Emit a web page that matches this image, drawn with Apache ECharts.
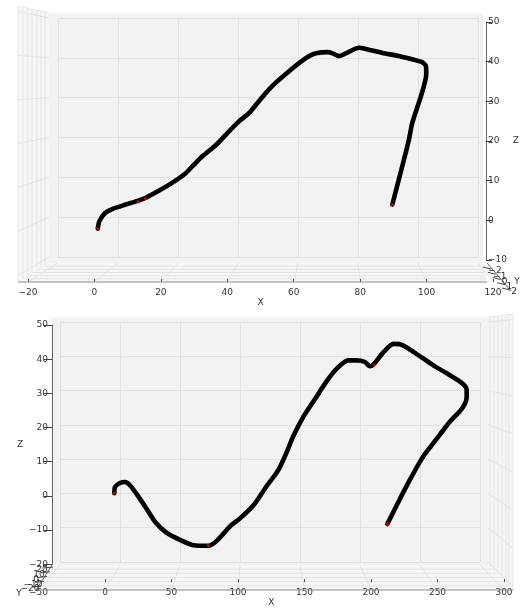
<!DOCTYPE html>
<html><head><meta charset="utf-8">
<script src="https://cdn.jsdelivr.net/npm/echarts@6/dist/echarts.min.js"></script>
<style>html,body{margin:0;padding:0;background:#fff}#c{width:522px;height:608px}</style>
</head><body><div id="c"></div>
<script>
// ---------- data ----------
const topX = [1.0, 1.5, 3.3, 5.5, 9.5, 13.0, 15.5, 19.5, 23.5, 27.1, 29.6, 32.6, 36.6, 40.6, 43.6, 46.6, 49.1, 51.7, 54.6, 58.6, 61.7, 64.7, 66.7, 70.2, 71.7, 73.7, 75.7, 79.7, 81.7, 86.7, 91.7, 98.3, 99.8, 99.9, 98.3, 95.7, 94.7, 92.7, 89.7];
const topZ = [-2.1, -0.2, 1.9, 2.9, 4.0, 4.9, 5.7, 7.5, 9.5, 11.6, 13.7, 16.2, 19.0, 22.5, 25.0, 27.1, 29.6, 32.2, 34.7, 37.6, 39.7, 41.4, 42.1, 42.4, 42.1, 41.4, 42.1, 43.5, 43.2, 42.2, 41.4, 40.0, 38.9, 36.8, 31.3, 24.6, 20.4, 13.7, 4.0];
const topRedX = [1.0, 13.2, 15.3, 89.7];
const topRedZ = [-2.1, 4.7, 5.5, 4.0];

const botX = [7.0, 7.5, 11.3, 15.0, 18.8, 26.3, 31.3, 37.6, 46.4, 56.4, 66.4, 77.7, 84.0, 94.0, 101.5, 111.5, 121.6, 130.3, 136.6, 141.6, 149.1, 157.9, 166.7, 174.2, 182.9, 189.2, 195.5, 199.2, 201.7, 209.3, 216.8, 221.8, 234.4, 246.9, 256.9, 268.2, 271.9, 271.9, 268.2, 259.4, 251.9, 244.4, 238.1, 229.3, 220.5, 212.3];
const botZ = [-0.9, 1.0, 2.2, 2.5, 1.5, -2.6, -5.6, -9.5, -12.9, -15.0, -16.6, -16.8, -15.3, -10.9, -8.5, -4.6, 1.3, 6.1, 11.5, 16.4, 22.2, 27.6, 33.0, 36.8, 39.3, 39.3, 38.8, 37.5, 38.0, 41.7, 44.3, 44.2, 41.2, 37.8, 35.4, 32.5, 30.5, 28.1, 24.6, 20.8, 16.9, 13.0, 9.5, 3.2, -3.6, -10.2];
const botRedX = [7.0, 77.7, 202.3, 212.3];
const botRedZ = [-0.9, -16.8, 38.0, -10.2];

const topXTicks = [-20, 0, 20, 40, 60, 80, 100, 120];
const topZTicks = [-10, 0, 10, 20, 30, 40, 50];
const botXTicks = [-50, 0, 50, 100, 150, 200, 250, 300];
const botZTicks = [-20, -10, 0, 10, 20, 30, 40, 50];
const topYTicks = ['−2', '−1', '0', '1', '2'];
const botYTicks = ['−20', '−10', '0', '10', '20'];

// ---------- helpers ----------
const FONT = 'DejaVu Sans';
const LBL = '#333';
const FS = 9;
function pts(xs, zs) { return xs.map((x, i) => [x, zs[i]]); }
function rng(t) { return { min: t[0], max: t[t.length - 1], interval: t[1] - t[0] }; }
function hiddenAxis(grid, t, split) {
  return Object.assign({ gridIndex: grid, type: 'value', axisLine: { show: false, onZero: false }, axisTick: { show: false },
    axisLabel: { show: false }, splitLine: { show: !!split, lineStyle: { color: '#e2e2e2', width: 1 } } }, rng(t));
}
const fmt = v => String(v).replace('-', '−');

const chart = echarts.init(document.getElementById('c'), null, { renderer: 'canvas' });

const grids = [
  { left: 58, top: 18, width: 420, height: 239 },      // 0 top back pane gridlines
  { left: 28, top: 22, width: 465, height: 238 },      // 1 top data (front scale)
  { left: 28, top: 22, width: 459, height: 238 },      // 2 top z axis
  { left: 60, top: 322, width: 420, height: 240 },     // 3 bottom back pane gridlines
  { left: 38.5, top: 325, width: 465.5, height: 239.3 }, // 4 bottom data
  { left: 52, top: 325, width: 452, height: 239.3 }    // 5 bottom z axis
];

function frontX(grid, ticks, off) {
  return Object.assign({ gridIndex: grid, type: 'value', position: 'bottom', offset: off,
    axisLine: { show: false, onZero: false },
    axisTick: { show: true, inside: true, length: 3, lineStyle: { color: '#555' } },
    axisLabel: { show: true, fontSize: FS, fontFamily: FONT, color: LBL, margin: 6, formatter: fmt },
    splitLine: { show: false },
    name: 'X', nameLocation: 'middle', nameGap: 10,
    nameTextStyle: { fontSize: FS, fontFamily: FONT, color: LBL } }, rng(ticks));
}
function zAxis(grid, ticks, pos, tickLen, margin, gap) {
  return Object.assign({ gridIndex: grid, type: 'value', position: pos,
    axisLine: { show: true, onZero: false, lineStyle: { color: '#666', width: 1 } },
    axisTick: { show: true, length: tickLen, lineStyle: { color: '#444' } },
    axisLabel: { show: true, fontSize: FS, fontFamily: FONT, color: LBL, margin, formatter: fmt },
    splitLine: { show: false },
    name: 'Z', nameLocation: 'middle', nameGap: gap, nameRotate: 0,
    nameTextStyle: { fontSize: FS, fontFamily: FONT, color: LBL } }, rng(ticks));
}

const xAxes = [
  hiddenAxis(0, topXTicks, true),
  frontX(1, topXTicks, 22),
  hiddenAxis(2, topXTicks, false),
  hiddenAxis(3, botXTicks, true),
  frontX(4, botXTicks, 25.7),
  hiddenAxis(5, botXTicks, false)
];

const yAxes = [
  hiddenAxis(0, topZTicks, true),
  hiddenAxis(1, topZTicks, false),
  zAxis(2, topZTicks, 'right', 6, 2, 17),
  hiddenAxis(3, botZTicks, true),
  hiddenAxis(4, botZTicks, false),
  zAxis(5, botZTicks, 'left', 8, 4, 18)
];

const lineStyle = { color: '#000', width: 4.6, cap: 'round', join: 'round' };
const series = [
  { type: 'line', xAxisIndex: 1, yAxisIndex: 1, data: pts(topX, topZ), symbol: 'none', smooth: 0.25,
    lineStyle, z: 3, silent: true, animation: false },
  { type: 'scatter', xAxisIndex: 1, yAxisIndex: 1, data: pts(topRedX, topRedZ), symbolSize: 3.5,
    itemStyle: { color: '#e00000' }, z: 4, silent: true, animation: false },
  { type: 'line', xAxisIndex: 4, yAxisIndex: 4, data: pts(botX, botZ), symbol: 'none', smooth: 0.25,
    lineStyle, z: 3, silent: true, animation: false },
  { type: 'scatter', xAxisIndex: 4, yAxisIndex: 4, data: pts(botRedX, botRedZ), symbolSize: 3.5,
    itemStyle: { color: '#e00000' }, z: 4, silent: true, animation: false }
];

chart.setOption({ animation: false, grid: grids, xAxis: xAxes, yAxis: yAxes, series });

// ---------- 3D box decorations (panes, floor, side walls) ----------
const G = [];
const PANE = '#f2f2f2', SIDE = '#f6f6f6', GL = '#e4e4e4', EDGE = '#8a8a8a';
function L(x1, y1, x2, y2, c, w, z) { G.push({ type: 'line', silent: true, z: z == null ? -2 : z,
  shape: { x1, y1, x2, y2 }, style: { stroke: c, lineWidth: w || 1 } }); }
function P(points, fill, z) { G.push({ type: 'polygon', silent: true, z: z == null ? -5 : z,
  shape: { points }, style: { fill, stroke: null } }); }
function T(str, x, y, align, vAlign) { G.push({ type: 'text', silent: true, z: 5,
  style: { text: str, x, y, fill: LBL, font: FS + 'px "' + FONT + '"', textAlign: align || 'center', textVerticalAlign: vAlign || 'middle' } }); }
const lerp = (a, b, t) => a + (b - a) * t;
const px = (ax, v) => chart.convertToPixel({ xAxisIndex: ax }, v);
const py = (ax, v) => chart.convertToPixel({ yAxisIndex: ax }, v);

// ---- top box ----
(function () {
  const bl = 49, br = 483, bt = 13, bb = 263;   // back pane
  const fl = 18, fr = 487, ft = 6, fb = 282;    // front edges
  P([[bl, bt], [br, bt], [br, bb], [bl, bb]], PANE, -6);
  P([[fl, ft], [bl, bt], [bl, bb], [fl, fb]], SIDE, -6);
  P([[bl, bb], [br, bb], [fr, fb], [fl, fb]], SIDE, -6);
  [23, 28, 32, 37, 41, 45].forEach(x => {
    const t = (bl - x) / (bl - fl);
    L(x, lerp(bt, ft, t), x, lerp(bb, fb, t), GL, 1);
  });
  L(fl, ft, fl, fb, '#e8e8e8', 1);
  L(fl, ft, bl, bt, '#e8e8e8', 1);
  topZTicks.forEach(z => {
    const yb = py(0, z);
    const yf = ft + (yb - bt) * (fb - ft) / (bb - bt);
    L(bl, yb, fl, yf, GL, 1);
  });
  for (let k = 1; k < 6; k++) {
    const t = k / 6, y = lerp(bb, fb, t);
    L(lerp(bl, fl, t), y, lerp(br, fr, t), y, GL, 1);
  }
  topXTicks.forEach(x => L(px(0, x), bb, px(1, x), fb, GL, 1));
  L(fl, fb, fr, fb, EDGE, 1, 2);
  // squashed Y axis
  L(487, 263, 511, 291, '#666', 1, 2);
  topYTicks.forEach((s, i) => {
    const t = i / (topYTicks.length - 1);
    const x = lerp(490, 509, t), y = lerp(268, 289, t);
    L(x - 7, y - 1, x + 1, y + 1, '#444', 1, 2);
    T(s, x + 5, y + 3, 'center');
  });
  T('Y', 517, 282, 'center');
})();

// ---- bottom box ----
(function () {
  const bl = 52, br = 488, bt = 317, bb = 565;
  const fl = 37, fr = 513, ft = 314, fb = 590;
  P([[bl, bt], [br, bt], [br, bb], [bl, bb]], PANE, -6);
  P([[br, bt], [fr, ft], [fr, fb], [br, bb]], SIDE, -6);
  P([[bl, bb], [br, bb], [fr, fb], [fl, fb]], SIDE, -6);
  [490, 494, 498, 502, 506, 509].forEach(x => {
    const t = (x - br) / (fr - br);
    L(x, lerp(bt, ft, t), x, lerp(bb, fb, t), GL, 1);
  });
  L(fr, ft, fr, fb, '#e8e8e8', 1);
  L(br, bt, fr, ft, '#e8e8e8', 1);
  botZTicks.forEach(z => {
    const yb = py(3, z);
    const yf = ft + (yb - bt) * (fb - ft) / (bb - bt);
    L(br, yb, fr, yf, GL, 1);
  });
  for (let k = 1; k < 6; k++) {
    const t = k / 6, y = lerp(bb, fb, t);
    L(lerp(bl, fl, t), y, lerp(br, fr, t), y, GL, 1);
  }
  botXTicks.forEach(x => L(px(3, x), bb, px(4, x), fb, GL, 1));
  L(fl, fb, fr, fb, EDGE, 1, 2);
  // squashed Y axis
  L(52, 565, 36, 590, '#666', 1, 2);
  botYTicks.forEach((s, i) => {
    const t = i / (botYTicks.length - 1);
    const x = lerp(38, 50, t), y = lerp(587, 568, t);
    L(x - 6, y, x + 3, y - 1, '#444', 1, 2);
    T(s, x - 8, y + 2, 'center');
  });
  T('Y', 19, 594, 'center');
})();

chart.setOption({ graphic: { elements: G } });
</script>
</body></html>
